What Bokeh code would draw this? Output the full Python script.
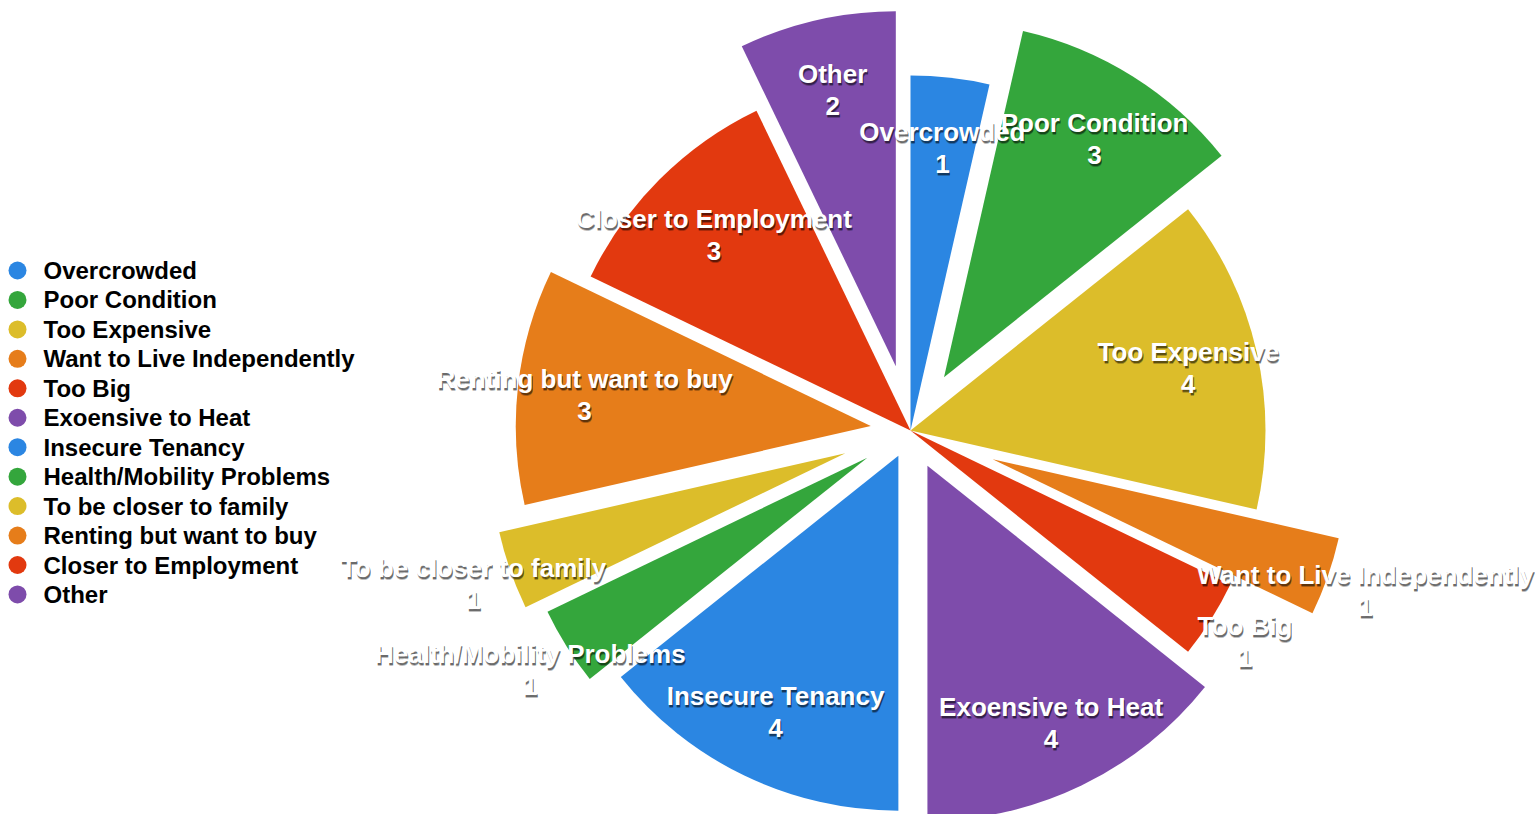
import math
from bokeh.plotting import figure
from bokeh.models import Range1d, ColumnDataSource
from bokeh.core.properties import value
from bokeh.embed import file_html
from bokeh.resources import INLINE

# ---- data ----
categories = ["Overcrowded", "Poor Condition", "Too Expensive", "Want to Live Independently",
              "Too Big", "Exoensive to Heat", "Insecure Tenancy", "Health/Mobility Problems",
              "To be closer to family", "Renting but want to buy", "Closer to Employment", "Other"]
counts = [1, 3, 4, 1, 1, 4, 4, 1, 1, 3, 3, 2]

# ---- styles ----
colors = ["#2b86e2", "#34a63c", "#dcbd2a", "#e67d1a", "#e2390f", "#7e4cab",
          "#2b86e2", "#34a63c", "#dcbd2a", "#e67d1a", "#e2390f", "#7e4cab"]
explode = [0, 63, 0, 87, 0, 39, 28, 51, 69, 40, 0, 66]        # px offset of each slice
label_r = [285, 283, 285, 395, 395, 285, 283, 398, 394, 288, 278, 284]
W, H = 1535, 814
CX, CY, R = 910, H - 430, 355
FONT = "Liberation Sans"

total = sum(counts)
xs, ys, starts, ends, lx, ly = [], [], [], [], [], []
cum = 0
for c, e, lr in zip(counts, explode, label_r):
    a_end = math.pi / 2 - 2 * math.pi * cum / total
    cum += c
    a_start = math.pi / 2 - 2 * math.pi * cum / total
    mid = (a_start + a_end) / 2
    tx = CX + e * math.cos(mid)
    ty = CY + e * math.sin(mid)
    xs.append(tx); ys.append(ty)
    starts.append(a_start); ends.append(a_end)
    lx.append(tx + lr * math.cos(mid)); ly.append(ty + lr * math.sin(mid))

src = ColumnDataSource(dict(x=xs, y=ys, start=starts, end=ends, color=colors,
                            lx=lx, ly=ly, name=categories,
                            val=[str(v) for v in counts]))

p = figure(width=W, height=H, x_range=Range1d(0, W), y_range=Range1d(0, H),
           output_backend="svg", toolbar_location=None,
           x_axis_location=None, y_axis_location=None, min_border=0)
p.grid.visible = False
p.outline_line_color = None
p.background_fill_color = "white"
p.border_fill_color = "white"

p.wedge(x="x", y="y", radius=R, start_angle="start", end_angle="end",
        fill_color="color", line_color=None, source=src)

# labels with soft shadow
for dx, dy, col, alpha in [(1, 3, "black", 0.25), (1, 2, "black", 0.45), (0, 0, "white", 1.0)]:
    p.text(x="lx", y="ly", text="name", source=src, x_offset=dx, y_offset=-15 + dy,
           text_align="center", text_baseline="middle", text_color=col, text_alpha=alpha,
           text_font=value(FONT), text_font_style="bold", text_font_size="26px")
    p.text(x="lx", y="ly", text="val", source=src, x_offset=dx, y_offset=17 + dy,
           text_align="center", text_baseline="middle", text_color=col, text_alpha=alpha,
           text_font=value(FONT), text_font_style="bold", text_font_size="26px")

# legend
leg_y = [H - (270 + i * 29.45) for i in range(len(categories))]
leg = ColumnDataSource(dict(x=[17] * len(categories), y=leg_y, color=colors,
                            tx=[43] * len(categories), name=categories))
p.scatter(x="x", y="y", size=18, fill_color="color", line_color=None, source=leg)
p.text(x="tx", y="y", text="name", source=leg, text_align="left", text_baseline="middle",
       text_color="black", text_font=value(FONT), text_font_style="bold",
       text_font_size="24px", y_offset=0)

open("out.html", "w").write(file_html(p, INLINE))
